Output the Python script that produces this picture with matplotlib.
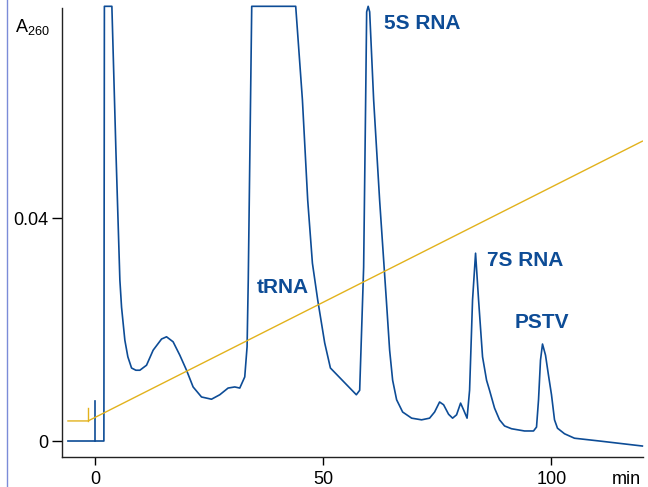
import matplotlib
matplotlib.use("Agg")
import matplotlib.pyplot as plt
from matplotlib.lines import Line2D

plt.rcParams["font.family"] = ["Liberation Sans", "DejaVu Sans"]

# elution profile, A260 vs time (min); clipped peaks sit at the top of the scale
time_min = [-5.9, 1.97, 2.08, 3.72, 4.60, 5.47, 5.84, 6.56, 7.22, 8.03, 8.97, 9.85,
            11.31, 12.76, 14.60, 15.69, 17.13, 18.60, 20.07, 21.51, 23.35, 25.54,
            27.35, 29.17, 30.63, 31.73, 32.82, 33.33, 33.59, 34.35, 43.98, 45.45,
            46.61, 47.64, 48.80, 50.33, 51.58, 57.26, 57.99, 58.86, 59.30, 59.52,
            59.85, 60.18, 61.05, 62.36, 63.83, 64.55, 65.21, 66.08, 67.40, 69.37,
            71.55, 73.30, 74.40, 75.49, 76.37, 77.46, 78.34, 79.21, 80.09, 80.74,
            81.51, 82.06, 82.71, 83.37, 84.03, 84.90, 85.78, 86.43, 87.53, 88.62,
            89.72, 91.25, 94.09, 96.06, 96.72, 97.16, 97.59, 98.03, 98.69, 99.34,
            100.0, 100.66, 101.31, 102.85, 105.03, 110.5, 119.9]
a260 = [0.0, 0.0, 0.0780, 0.0780, 0.0522, 0.0289, 0.0240, 0.0181, 0.0151, 0.0131,
        0.0127, 0.0127, 0.0136, 0.0163, 0.0183, 0.0187, 0.0178, 0.0154, 0.0127,
        0.0097, 0.0079, 0.0075, 0.0083, 0.0095, 0.0097, 0.0095, 0.0115, 0.0169,
        0.0289, 0.0780, 0.0780, 0.0612, 0.0432, 0.0319, 0.0253, 0.0176, 0.0131,
        0.0083, 0.0091, 0.0312, 0.0612, 0.0770, 0.0780, 0.0770, 0.0612, 0.0432,
        0.0253, 0.0163, 0.0109, 0.0074, 0.0052, 0.0041, 0.0038, 0.0041, 0.0052,
        0.0070, 0.0065, 0.0048, 0.0041, 0.0047, 0.0068, 0.0056, 0.0041, 0.0091,
        0.0253, 0.0337, 0.0253, 0.0151, 0.0109, 0.0091, 0.0059, 0.0038, 0.0027,
        0.0022, 0.0018, 0.0018, 0.0025, 0.0074, 0.0145, 0.0174, 0.0154, 0.0118,
        0.0083, 0.0038, 0.0023, 0.0013, 0.0005, 0.0, -0.0009]

# salt gradient (gold line)
grad_t = [-5.9, -1.5, 119.9]
grad_v = [0.0036, 0.0036, 0.0538]
grad_mark_t = [-1.5, -1.5]
grad_mark_v = [0.0036, 0.0059]

# injection marker
inj_t = [0.0, 0.0]
inj_v = [0.0, 0.0072]

peak_labels = ["5S RNA", "tRNA", "7S RNA", "PSTV"]
label_t = [71.7, 41.1, 94.3, 98.0]
label_v = [0.0749, 0.0276, 0.0323, 0.0212]

BLUE = "#0d4c96"
GOLD = "#e2b21c"

fig = plt.figure(figsize=(6.48, 4.87), dpi=100)
ax = fig.add_axes([0.0957, 0.0616, 0.8963, 0.922])

ax.plot(time_min, a260, color=BLUE, lw=1.2, clip_on=False,
        solid_joinstyle="round")
ax.plot(inj_t, inj_v, color=BLUE, lw=1.2)
ax.plot(grad_t, grad_v, color=GOLD, lw=1.0)
ax.plot(grad_mark_t, grad_mark_v, color=GOLD, lw=1.0)

for lab, t, v in zip(peak_labels, label_t, label_v):
    ax.text(t, v, lab, color=BLUE, fontsize=15, fontweight="bold",
            ha="center", va="center")

ax.set_xlim(-7.2, 120)
ax.set_ylim(-0.00287, 0.0777)
ax.set_xticks([0, 50, 100])
ax.set_yticks([0, 0.04])
ax.set_yticklabels(["0", "0.04"])
ax.tick_params(axis="y", length=7, width=1.0, pad=3, labelsize=13)
ax.tick_params(axis="x", length=6, width=1.0, pad=4, labelsize=13)
for s in ("top", "right"):
    ax.spines[s].set_visible(False)
for s in ("left", "bottom"):
    ax.spines[s].set_linewidth(1.0)
    ax.spines[s].set_color("#222222")

ax.annotate("min", xy=(116.4, 0), xycoords=("data", "axes fraction"),
            xytext=(0, -10), textcoords="offset points",
            ha="center", va="top", fontsize=13)

fig.text(0.023, 1 - 32 / 487, r"A$_{\mathregular{260}}$", fontsize=13,
         ha="left", va="baseline")

# thin decorative rule at the left edge
fig.add_artist(Line2D([0.0105, 0.0105], [0, 1], transform=fig.transFigure,
                      color="#7b8cd8", lw=1.0))

fig.savefig("out.png", dpi=100)
